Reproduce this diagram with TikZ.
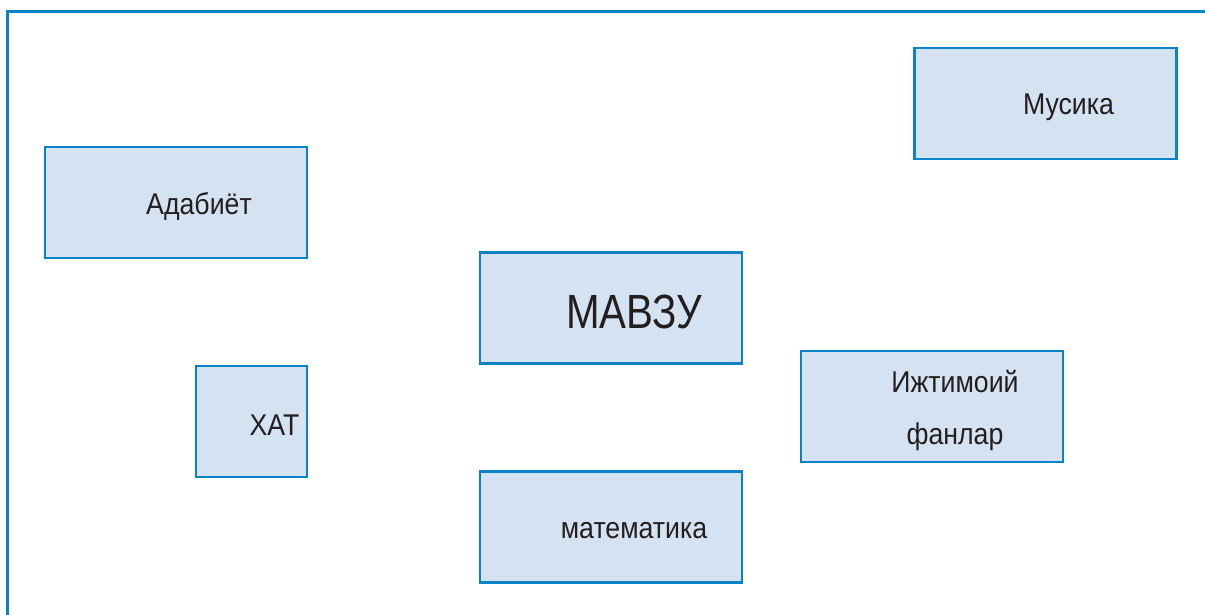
\documentclass[tikz,border=0pt]{standalone}
\usepackage{fontspec}
\setmainfont{Liberation Sans}
\definecolor{frameblue}{HTML}{0A82C8}
\definecolor{boxfill}{HTML}{D5E2F1}
\definecolor{txt}{HTML}{231F20}
\newcommand{\nrw}[1]{\scalebox{0.89}[1]{#1}}
\newcommand{\bnrw}[1]{\scalebox{0.84}[1]{#1}}
\begin{document}
\begin{tikzpicture}[x=1pt,y=-1pt,
  box/.style={draw=frameblue, fill=boxfill, line width=2.6pt, minimum width=262pt, minimum height=111pt, inner sep=0pt},
  sbox/.style={box, minimum width=111pt},
  lbl/.style={text=txt, font=\fontsize{30}{36}\selectfont, inner sep=0pt},
  biglbl/.style={text=txt, font=\fontsize{48}{56}\selectfont, inner sep=0pt}]
\useasboundingbox (0,0) rectangle (1205,614);
\draw[frameblue, line width=3pt] (7.5,630) -- (7.5,11) -- (1215,11);
\node[box]  (muz) at (1045.5,103.5) {};
\node[box]  (adab) at (176,202.5) {};
\node[box]  (mavzu) at (611,308) {};
\node[sbox] (xat) at (251.5,421.5) {};
\node[box]  (ijt) at (932,406.5) {};
\node[box]  (mat) at (611,527) {};
\node[lbl] (tmuz) at ([xshift=23pt,yshift=-4pt]muz.center) {\nrw{Мусика}};
\node[lbl] (tadab) at ([xshift=23pt,yshift=-4pt]adab.center) {\nrw{Адабиёт}};
\node[biglbl] (tmavzu) at ([xshift=23pt,yshift=-4pt]mavzu.center) {\bnrw{МАВЗУ}};
\node[lbl] (txat) at ([xshift=23pt,yshift=-4pt]xat.center) {\nrw{ХАТ}};
\node[lbl, align=center, font=\fontsize{30}{52}\selectfont] (tijt) at ([xshift=23pt,yshift=-4pt]ijt.center) {\nrw{Ижтимоий}\\\nrw{фанлар}};
\node[lbl] (tmat) at ([xshift=23pt,yshift=-4pt]mat.center) {\nrw{математика}};
\end{tikzpicture}
\end{document}
